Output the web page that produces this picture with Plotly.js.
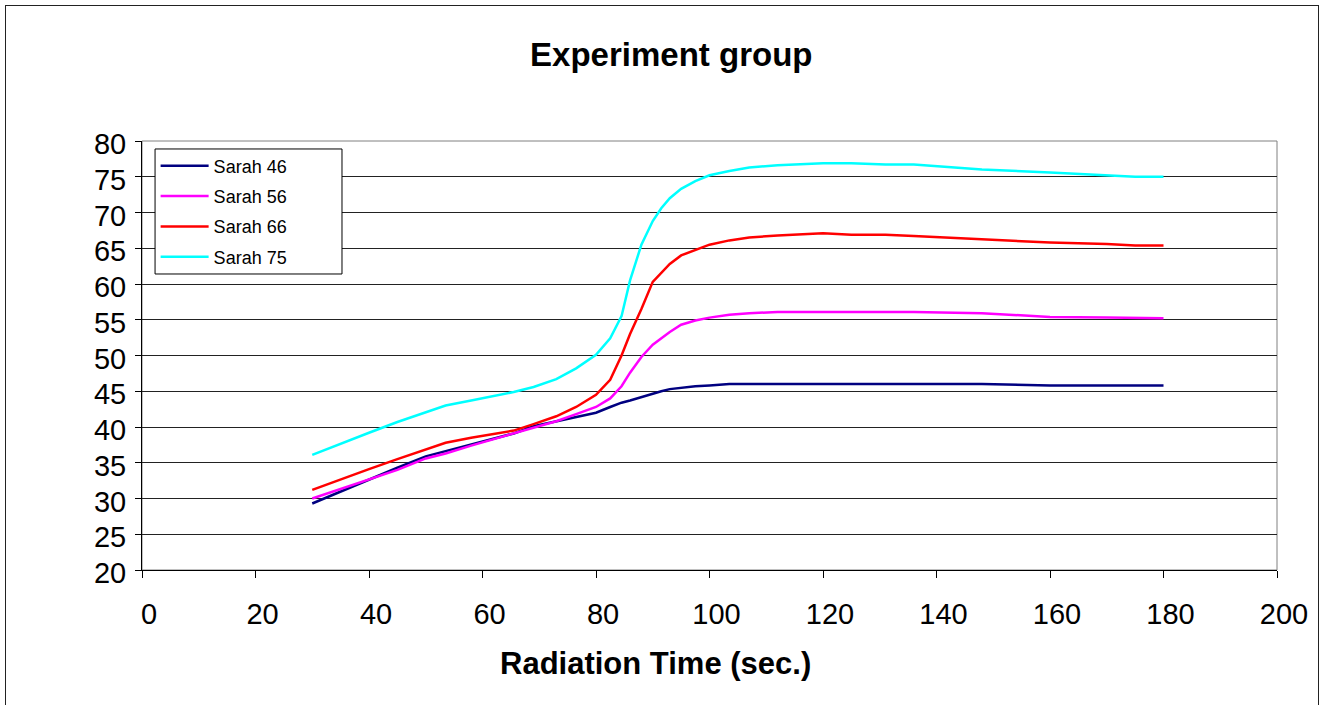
<!DOCTYPE html>
<html><head><meta charset="utf-8">
<script src="https://cdn.plot.ly/plotly-3.0.1.min.js"></script>
<style>
html,body{margin:0;padding:0;background:#fff;overflow:hidden;}
#chart{position:absolute;left:0;top:0;width:1324px;height:705px;}
#frame{position:absolute;left:5px;top:5px;width:1312px;height:730px;border:1px solid #222;pointer-events:none;}
</style></head>
<body>
<div id="chart"></div>
<div id="frame"></div>
<script>
var timeSec = [30, 35, 40, 45, 50, 53.5, 58, 62, 65.5, 69, 73, 76.5, 80, 82.5, 84.5, 86, 88, 90, 91.5, 93, 95, 97.5, 100, 103.5, 107, 112, 120, 125, 131, 136, 148, 160, 170, 175, 180];
var sarah46 = [29.3, 31.0, 32.6, 34.3, 35.9, 36.6, 37.6, 38.4, 39.1, 40.1, 40.8, 41.4, 42.0, 42.8, 43.4, 43.7, 44.2, 44.6, 45.0, 45.3, 45.5, 45.7, 45.8, 46.0, 46.0, 46.0, 46.0, 46.0, 46.0, 46.0, 46.0, 45.8, 45.8, 45.8, 45.8];
var sarah56 = [30.0, 31.3, 32.6, 34.0, 35.6, 36.3, 37.4, 38.3, 39.1, 39.9, 40.8, 41.8, 42.8, 44.0, 45.7, 47.6, 49.8, 51.5, 52.4, 53.3, 54.3, 54.9, 55.3, 55.7, 55.9, 56.1, 56.1, 56.1, 56.1, 56.1, 55.9, 55.4, 55.3, 55.2, 55.2];
var sarah66 = [31.2, 32.7, 34.1, 35.5, 36.9, 37.8, 38.5, 39.0, 39.5, 40.4, 41.5, 42.8, 44.5, 46.6, 50.0, 53.0, 56.5, 60.3, 61.6, 62.8, 64.0, 64.8, 65.5, 66.1, 66.5, 66.8, 67.1, 66.9, 66.9, 66.7, 66.3, 65.8, 65.6, 65.4, 65.4];
var sarah75 = [36.1, 37.7, 39.2, 40.7, 42.1, 43.0, 43.7, 44.3, 44.9, 45.6, 46.7, 48.2, 50.1, 52.4, 55.5, 60.5, 65.5, 68.8, 70.6, 72.0, 73.3, 74.4, 75.2, 75.8, 76.3, 76.6, 76.9, 76.9, 76.7, 76.7, 76.0, 75.6, 75.2, 75.0, 75.0];
var seriesNames = ["Sarah 46", "Sarah 56", "Sarah 66", "Sarah 75"];
var seriesColors = ["#000080", "#FF00FF", "#FF0000", "#00FFFF"];
var allSeries = [sarah46, sarah56, sarah66, sarah75];
var chartTitle = "Experiment group";
var xTitle = "Radiation Time (sec.)";

var FONT = "Liberation Sans, Arial, Helvetica, sans-serif";
var traces = allSeries.map(function(vals, i){
  return {x: timeSec, y: vals, type: 'scatter', mode: 'lines', name: seriesNames[i],
          legendgroup: 'g' + i,
          line: {color: seriesColors[i], width: 2.5}};
});

var layout = {
  width: 1324, height: 705,
  paper_bgcolor: '#fff', plot_bgcolor: '#fff',
  margin: {l: 142, r: 47, t: 141, b: 135},
  font: {family: FONT, color: '#000'},
  title: {text: '<b>' + chartTitle + '</b>', font: {family: FONT, size: 33, color: '#000'},
          x: 0.507, xanchor: 'center', y: 0.923, yanchor: 'middle'},
  xaxis: {range: [0, 200], dtick: 20, tick0: 0, showgrid: false, zeroline: false,
          ticks: 'outside', ticklen: 7, tickcolor: '#000', showline: true, linecolor: '#000', linewidth: 1,
          tickfont: {family: FONT, size: 29, color: '#000'}, ticklabelshift: 7, ticklabelstandoff: 11},
  yaxis: {range: [20, 80], dtick: 5, tick0: 20, showgrid: true, gridcolor: '#222', gridwidth: 1, zeroline: false,
          ticks: 'outside', ticklen: 6, tickcolor: '#000', showline: true, linecolor: '#000', linewidth: 1,
          tickfont: {family: FONT, size: 29, color: '#000'}, ticklabelstandoff: 3, ticklabelshift: 3},
  shapes: [
    {type: 'rect', xref: 'paper', yref: 'paper', x0: 0, x1: 1, y0: 0, y1: 1,
     line: {color: '#808080', width: 1}, layer: 'below'},
    {type: 'rect', xref: 'paper', yref: 'paper', x0: 0.0115, x1: 0.1762, y0: 0.690, y1: 0.9814,
     line: {color: '#000', width: 1}, fillcolor: '#fff', layer: 'above'}
  ],
  annotations: [{text: '<b>' + xTitle + '</b>', xref: 'paper', yref: 'paper', x: 0.4524, y: -0.219,
                 xanchor: 'center', yanchor: 'middle', showarrow: false,
                 font: {family: FONT, size: 31, color: '#000'}}],
  legend: {x: 0.012, y: 0.985, xanchor: 'left', yanchor: 'top', bgcolor: 'rgba(0,0,0,0)',
           borderwidth: 0, font: {family: FONT, size: 18, color: '#000'},
           tracegroupgap: 4, itemwidth: 48},
  showlegend: true
};
Plotly.newPlot('chart', traces, layout, {displayModeBar: false, staticPlot: true});
</script>
</body></html>
